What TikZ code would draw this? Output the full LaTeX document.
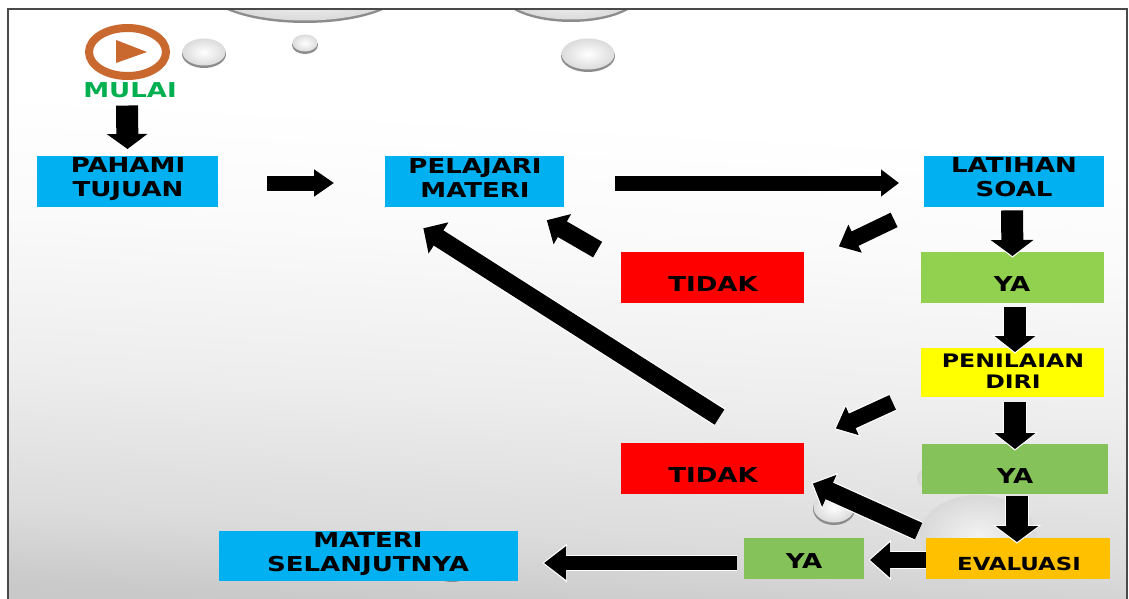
\documentclass[tikz,border=0pt]{standalone}
\usepackage{fontspec}
\setmainfont{DejaVu Sans}[FakeStretch=1.27]
\usetikzlibrary{arrows.meta}
\definecolor{boxblue}{HTML}{00B0F0}
\definecolor{boxgreen}{HTML}{92D050}
\definecolor{boxleaf}{HTML}{86C25A}
\definecolor{boxorange}{HTML}{FFC000}
\definecolor{boxyellow}{HTML}{FFFF00}
\definecolor{mulaigreen}{HTML}{00B050}
\definecolor{playorange}{HTML}{C9682F}
\definecolor{framegray}{HTML}{4A4A4A}
\pgfdeclareverticalshading{slideback}{100bp}{color(0bp)=(black!21); color(25bp)=(black!21); color(31bp)=(black!14); color(42.5bp)=(black!7); color(55bp)=(black!2); color(65bp)=(white); color(100bp)=(white)}
\tikzset{
  slidebox/.style n args={3}{fill=#1,inner sep=0pt,minimum width=#2,minimum height=#3},
  boxtext/.style={inner sep=0pt,align=center,font=\fontsize{10.25}{12}\selectfont\bfseries},
  smalltext/.style={inner sep=0pt,align=center,font=\fontsize{#1}{10.5}\selectfont\bfseries},
  blockarrow/.style n args={3}{draw=black,line width=#1,shorten >=0.8pt,-{Triangle[length=#2,width=#3]},
    preaction={draw=white,line width=#1+1.2pt,shorten >=0pt,-{Triangle[length=#2+1.2pt,width=#3+2.4pt]}}},
}
\newcommand{\waterdrop}[4]{
  \fill[black!45] (#1,#2+2) ellipse (#3 and #4);
  \shade[inner color=white,outer color=black!14] (#1,#2) ellipse (#3-0.5 and #4-0.5);
}
\newcommand{\faintdrop}[4]{
  \shade[inner color=black!5,outer color=black!15] (#1,#2) ellipse (#3 and #4);
}
\begin{document}
\begin{tikzpicture}[x=0.5pt,y=-0.5pt]
\useasboundingbox (0,0) rectangle (1129,599);
\shade[shading=slideback,shading angle=-3] (8,9) rectangle (1127,599);
\begin{scope}
\clip (8,9) rectangle (1127,599);
\waterdrop{305}{-14}{100}{35}
\waterdrop{571}{-11}{72}{31}
\end{scope}
\waterdrop{204}{52}{22}{14}
\waterdrop{305}{43}{13}{9}
\waterdrop{588}{54}{27}{16}
\waterdrop{834}{507}{21}{16}
\faintdrop{936}{478}{19}{12}
\faintdrop{978}{535}{58}{40}
\waterdrop{452}{568}{20}{12}
\draw[framegray,line width=0.8pt] (8,599) -- (8,9) -- (1127,9) -- (1127,599);
\draw[playorange,line width=4pt] (127.5,52) ellipse (38.5 and 24);
\fill[playorange] (116,40) -- (147,52) -- (116,63) -- cycle;
\node[boxtext,text=mulaigreen] (mulai) at (130,90) {MULAI};
\node[slidebox={boxblue}{90.5pt}{25.5pt}] (pahami) at (127.5,181.5) {};
\node[slidebox={boxblue}{89.5pt}{25.5pt}] (pelajari) at (474.5,181.5) {};
\node[slidebox={boxblue}{90pt}{25.5pt}] (latihan) at (1014,181.5) {};
\node[slidebox={red}{91.5pt}{25.5pt}] (tidaksatu) at (712.5,277.5) {};
\node[slidebox={boxgreen}{91.5pt}{25.5pt}] (yasatu) at (1012.5,277.5) {};
\node[slidebox={boxyellow}{91.5pt}{24.5pt}] (penilaian) at (1012.5,372.5) {};
\node[slidebox={red}{91.5pt}{25.5pt}] (tidakdua) at (712.5,468.5) {};
\node[slidebox={boxleaf}{93pt}{25pt}] (yadua) at (1015,469) {};
\node[slidebox={boxorange}{92pt}{20.5pt}] (evaluasi) at (1018,558.5) {};
\node[slidebox={boxleaf}{60pt}{20.5pt}] (yatiga) at (804,558.5) {};
\node[slidebox={boxblue}{149.5pt}{25pt}] (materi) at (368.5,556) {};
\draw[blockarrow={11pt}{7.5pt}{20pt}] ([shift={(-3,7.5)}]mulai.south) -- ([shift={(0,-5)}]pahami.north);
\draw[blockarrow={7.5pt}{10pt}{13pt}] ([shift={(49,1.5)}]pahami.east) -- ([shift={(-49,1.5)}]pelajari.west);
\draw[blockarrow={7.5pt}{9pt}{13pt}] ([shift={(51,1.5)}]pelajari.east) -- ([shift={(-23,1.5)}]latihan.west);
\draw[blockarrow={8pt}{9pt}{15pt}] ([shift={(-29.5,12.5)}]latihan.south west) -- ([shift={(33,-4.5)}]tidaksatu.north east);
\draw[blockarrow={11pt}{8pt}{21pt}] ([shift={(-2,3)}]latihan.south) -- ([shift={(0,6)}]yasatu.north);
\draw[blockarrow={9pt}{9pt}{17pt}] ([shift={(-23,-2)}]tidaksatu.north west) -- ([shift={(-19,12)}]pelajari.south east);
\draw[blockarrow={11pt}{8pt}{20pt}] ([shift={(2.5,4)}]yasatu.south) -- ([shift={(2.5,6)}]penilaian.north);
\draw[blockarrow={11pt}{8pt}{20pt}] ([shift={(2.5,5)}]penilaian.south) -- ([shift={(0,7)}]yadua.north);
\draw[blockarrow={8pt}{9pt}{15pt}] ([shift={(-28,5)}]penilaian.south west) -- ([shift={(30,-13.5)}]tidakdua.north east);
\draw[blockarrow={9pt}{9pt}{18pt}] ([shift={(7,-25.5)}]tidakdua.north) -- ([shift={(-52.5,20)}]pelajari.south);
\draw[blockarrow={11pt}{8pt}{21pt}] ([shift={(2,2)}]yadua.south) -- ([shift={(-1,6)}]evaluasi.north);
\draw[blockarrow={9pt}{9pt}{17pt}] ([shift={(-7,-6.5)}]evaluasi.north west) -- ([shift={(7,-11.5)}]tidakdua.south east);
\draw[blockarrow={8pt}{10pt}{17pt}] ([shift={(0,1.5)}]evaluasi.west) -- ([shift={(4,1.5)}]yatiga.east);
\draw[blockarrow={7pt}{11pt}{16pt}] ([shift={(-7,4.5)}]yatiga.west) -- ([shift={(24,7)}]materi.east);
\node[boxtext] (pahamitext) at (128,179) {PAHAMI\\TUJUAN};
\node[boxtext] (pelajaritext) at (475,178) {PELAJARI\\MATERI};
\node[boxtext] (latihantext) at (1014,177) {LATIHAN\\SOAL};
\node[boxtext] (tidaksatutext) at (713,284) {TIDAK};
\node[boxtext] (yasatutext) at (1012,284) {YA};
\node[smalltext=9.3] (penilaiantext) at (1013,371.5) {PENILAIAN\\DIRI};
\node[boxtext] (tidakduatext) at (713,475) {TIDAK};
\node[boxtext] (yaduatext) at (1015,476) {YA};
\node[smalltext=9] (evaluasitext) at (1019,564) {EVALUASI};
\node[boxtext] (yatigatext) at (804,561) {YA};
\node[boxtext] (materitext) at (368,554) {MATERI\\SELANJUTNYA};
\end{tikzpicture}
\end{document}
